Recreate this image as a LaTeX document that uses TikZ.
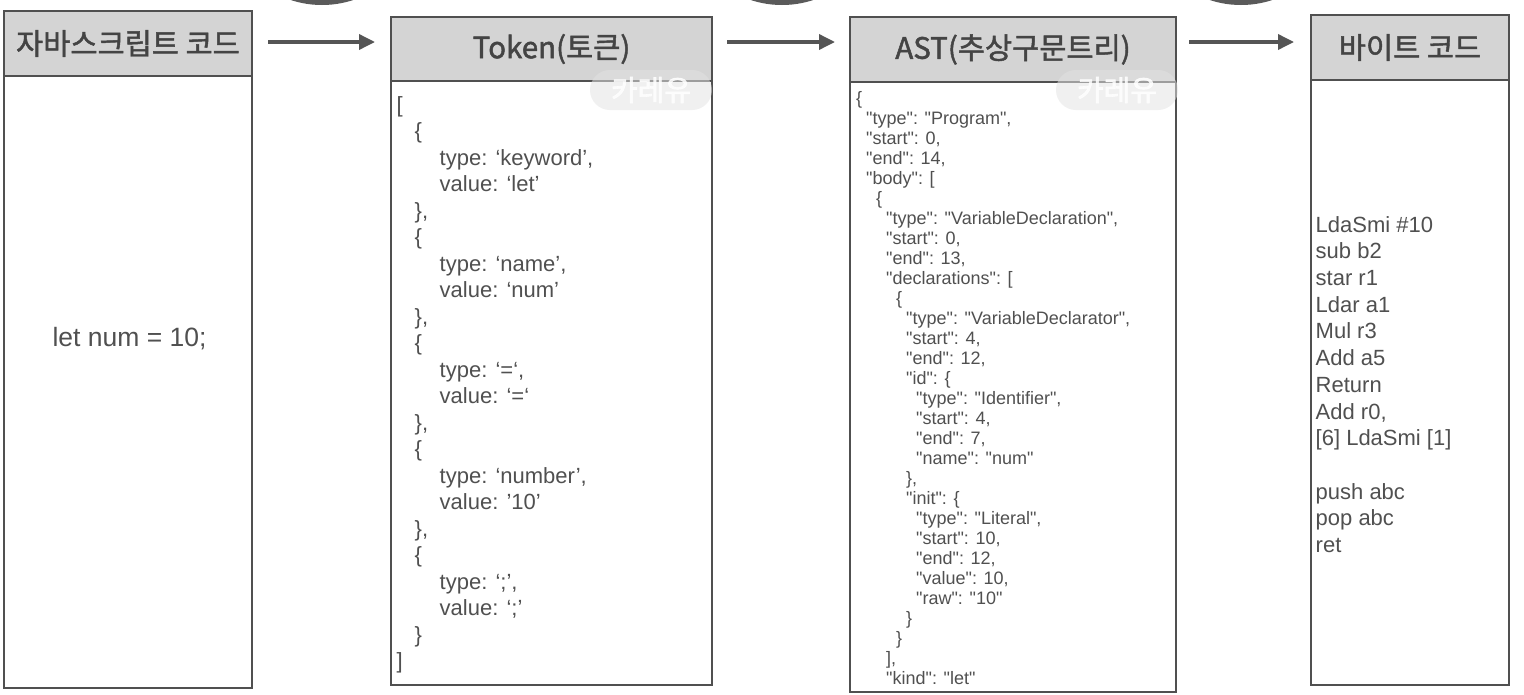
\documentclass[tikz,border=0pt]{standalone}
\usepackage{fontspec}
\usepackage{tikz}
\usetikzlibrary{arrows.meta,positioning}
\newfontfamily\krfont[FakeBold=1.6]{Noto Sans CJK KR}
\newfontfamily\markfont[FakeBold=2]{Noto Sans CJK KR}
\newfontfamily\codefont{Liberation Sans}
\definecolor{boxline}{HTML}{505050}
\definecolor{headgray}{HTML}{D4D4D4}
\definecolor{inkgray}{HTML}{444444}
\definecolor{codegray}{HTML}{505050}
\definecolor{flowgray}{HTML}{555555}
\definecolor{dotgray}{HTML}{5A5A5A}
\definecolor{wmgray}{HTML}{E3E3E3}

\begin{document}
\begin{tikzpicture}[x=1pt,y=1pt,
  colhead/.style={draw=boxline, fill=headgray, line width=1.5pt, outer sep=0pt, inner sep=0pt,
    text=inkgray, font=\krfont\fontsize{29.5}{32}\selectfont, minimum height=65pt},
  colbody/.style={draw=boxline, fill=white, line width=1.5pt, outer sep=0pt, inner sep=0pt},
  codetext/.style={anchor=north west, align=left, inner sep=0pt, text=codegray},
  flow/.style={draw=flowgray, line width=3.5pt, -{Triangle[length=16pt,width=15pt]}},
  stepdot/.style={circle, fill=dotgray, minimum size=200pt, inner sep=0pt},
  wmark/.style={rounded corners=20pt, fill=wmgray, fill opacity=0.53, text opacity=0.85, text=white,
    minimum width=122pt, minimum height=40pt, inner sep=0pt, font=\markfont\fontsize{29}{30}\selectfont}]
\fill[white] (0,0) rectangle (1524,-694);
\useasboundingbox (0,0) rectangle (1524,-694);

% step circles, cut off at the top
\node[stepdot] (num1) at (322,95) {};
\node[stepdot] (num2) at (782,95) {};
\node[stepdot] (num3) at (1241,95) {};

% columns
\node[colhead, minimum width=248pt] (h1) at (128,-43.5) {자바스크립트 코드};
\node[colbody, minimum width=248pt, minimum height=612pt, below=0pt of h1] (b1) {};
\node[colhead, minimum width=321pt, minimum height=64pt] (h2) at (551.5,-49) {Token(토큰)};
\node[colbody, minimum width=321pt, minimum height=604pt, below=0pt of h2] (b2) {};
\node[colhead, minimum width=326pt] (h3) at (1013,-49.5) {AST(추상구문트리)};
\node[colbody, minimum width=326pt, minimum height=610pt, below=0pt of h3] (b3) {};
\node[colhead, minimum width=198pt] (h4) at (1410,-47.5) {바이트 코드};
\node[colbody, minimum width=198pt, minimum height=605pt, below=0pt of h4] (b4) {};

% arrows
\coordinate (lane) at (0,-42);
\draw[flow, shorten <=16pt, shorten >=16pt] (h1.east |- lane) -- (h2.west |- lane);
\draw[flow, shorten <=15pt, shorten >=15pt] (h2.east |- lane) -- (h3.west |- lane);
\draw[flow, shorten <=13pt, shorten >=17pt] (h3.east |- lane) -- (h4.west |- lane);

% contents
\node[text=codegray, inner sep=0pt, font=\codefont\fontsize{26.5}{30}\selectfont] (src) at (129.5,-339) {let num = 10;};

\node[codetext, font=\codefont\fontsize{22}{26.5}\selectfont] (tokens) at (396.5,-96) {[\\
\hspace*{18pt}\{\\
\hspace*{43pt}type: ‘keyword’,\\
\hspace*{43pt}value: ‘let’\\
\hspace*{18pt}\},\\
\hspace*{18pt}\{\\
\hspace*{43pt}type: ‘name’,\\
\hspace*{43pt}value: ‘num’\\
\hspace*{18pt}\},\\
\hspace*{18pt}\{\\
\hspace*{43pt}type: ‘=‘,\\
\hspace*{43pt}value: ‘=‘\\
\hspace*{18pt}\},\\
\hspace*{18pt}\{\\
\hspace*{43pt}type: ‘number’,\\
\hspace*{43pt}value: ’10’\\
\hspace*{18pt}\},\\
\hspace*{18pt}\{\\
\hspace*{43pt}type: ‘;’,\\
\hspace*{43pt}value: ‘;’\\
\hspace*{18pt}\}\\
]};

\node[codetext, font=\codefont\fontsize{18}{20}\selectfont] (ast) at (856,-91) {\{\\
\hspace*{10pt}"type": "Program",\\
\hspace*{10pt}"start": 0,\\
\hspace*{10pt}"end": 14,\\
\hspace*{10pt}"body": [\\
\hspace*{20pt}\{\\
\hspace*{30pt}"type": "VariableDeclaration",\\
\hspace*{30pt}"start": 0,\\
\hspace*{30pt}"end": 13,\\
\hspace*{30pt}"declarations": [\\
\hspace*{40pt}\{\\
\hspace*{50pt}"type": "VariableDeclarator",\\
\hspace*{50pt}"start": 4,\\
\hspace*{50pt}"end": 12,\\
\hspace*{50pt}"id": \{\\
\hspace*{60pt}"type": "Identifier",\\
\hspace*{60pt}"start": 4,\\
\hspace*{60pt}"end": 7,\\
\hspace*{60pt}"name": "num"\\
\hspace*{50pt}\},\\
\hspace*{50pt}"init": \{\\
\hspace*{60pt}"type": "Literal",\\
\hspace*{60pt}"start": 10,\\
\hspace*{60pt}"end": 12,\\
\hspace*{60pt}"value": 10,\\
\hspace*{60pt}"raw": "10"\\
\hspace*{50pt}\}\\
\hspace*{40pt}\}\\
\hspace*{30pt}],\\
\hspace*{30pt}"kind": "let"};

\node[codetext, font=\codefont\fontsize{22}{26.7}\selectfont] (bytes) at (1315.5,-216) {LdaSmi \#10\\
sub b2\\
star r1\\
Ldar a1\\
Mul r3\\
Add a5\\
Return\\
Add r0,\\
{}[6] LdaSmi [1]\\[26.7pt]
push abc\\
pop abc\\
ret};

% watermark
\node[wmark] (wm1) at (651,-90) {카레유};
\node[wmark] (wm2) at (1117,-90) {카레유};
\end{tikzpicture}
\end{document}
